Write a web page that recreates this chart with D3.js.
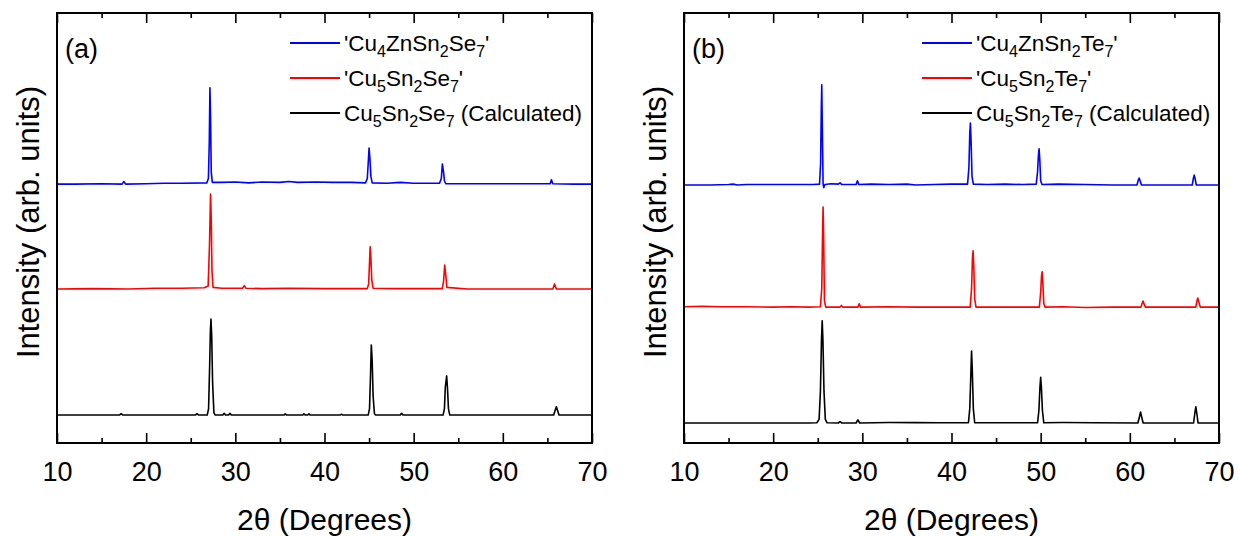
<!DOCTYPE html>
<html>
<head>
<meta charset="utf-8">
<script src="https://cdn.jsdelivr.net/npm/d3@7"></script>
<style>
  html, body { margin: 0; padding: 0; background: #ffffff; }
  svg { display: block; font-family: "Liberation Sans", Arial, sans-serif; }
</style>
</head>
<body>
<svg id="chart" width="1239" height="537"></svg>
<script>
// ---------- data ----------
const xMajorTicks = [10, 20, 30, 40, 50, 60, 70];
const xMinorTicks = [15, 25, 35, 45, 55, 65];
const xAxisTitle = "2θ (Degrees)";
const yAxisTitle = "Intensity (arb. units)";
const panelLabels = ["(a)", "(b)"];

// legend labels: [text, isSubscript]
const legendA = [
  [["'Cu", 0], ["4", 1], ["ZnSn", 0], ["2", 1], ["Se", 0], ["7", 1], ["'", 0]],
  [["'Cu", 0], ["5", 1], ["Sn", 0], ["2", 1], ["Se", 0], ["7", 1], ["'", 0]],
  [["Cu", 0], ["5", 1], ["Sn", 0], ["2", 1], ["Se", 0], ["7", 1], [" (Calculated)", 0]]
];
const legendB = [
  [["'Cu", 0], ["4", 1], ["ZnSn", 0], ["2", 1], ["Te", 0], ["7", 1], ["'", 0]],
  [["'Cu", 0], ["5", 1], ["Sn", 0], ["2", 1], ["Te", 0], ["7", 1], ["'", 0]],
  [["Cu", 0], ["5", 1], ["Sn", 0], ["2", 1], ["Te", 0], ["7", 1], [" (Calculated)", 0]]
];
const seriesColors = ["#0000ff", "#ff0000", "#000000"];

// panel (a): [2theta, intensity (arb. units, stacked)]
const aCu4ZnSn2Se7 = [[10,60.2],[12,60.2],[15,60.3],[17.3,60.2],[17.5,60.8],[17.7,60.2],[20,60.3],[22,60.4],[24,60.4],[26.8,60.5],[26.98,61.5],[27.08,70],[27.15,82.6],[27.22,76],[27.3,63],[27.42,60.6],[28.5,60.6],[30,60.7],[31.5,60.5],[33,60.7],[35,60.6],[36,60.8],[37,60.6],[39,60.7],[41,60.6],[43,60.6],[44.6,60.5],[44.8,61.5],[44.9,65],[45.0,68.6],[45.1,66],[45.2,62],[45.35,60.5],[47,60.4],[48.5,60.6],[50,60.4],[52.9,60.4],[53.1,61.5],[53.22,64.9],[53.35,63],[53.45,61],[53.6,60.3],[56,60.3],[60,60.3],[63,60.3],[65.3,60.3],[65.45,61.2],[65.6,60.3],[68,60.2],[70,60.2]];
const aCu5Sn2Se7 = [[10,35.8],[14,35.9],[18,35.8],[21,36.0],[24,36.0],[26.5,36.1],[26.95,36.5],[27.1,46],[27.22,57.9],[27.3,52],[27.38,40],[27.5,36.2],[28.5,36.0],[30.8,36.0],[31.0,36.6],[31.2,36.0],[33,35.9],[36,36.0],[40,35.9],[44.8,35.9],[44.95,37],[45.05,42],[45.12,45.6],[45.2,43],[45.3,38],[45.45,36],[48,35.9],[50,35.9],[53.2,35.9],[53.35,37.5],[53.48,41.4],[53.6,39],[53.72,36.2],[56,35.8],[60,35.8],[65.6,35.8],[65.8,37.0],[66.0,35.8],[70,35.8]];
const aCalculated = [[10,6.5],[17.0,6.5],[17.2,6.8],[17.4,6.5],[25.5,6.5],[25.7,6.8],[25.9,6.5],[26.85,6.5],[27.0,8],[27.12,18],[27.2,26],[27.27,28.8],[27.35,25],[27.45,14],[27.6,7],[27.75,6.5],[28.6,6.5],[28.75,6.9],[28.9,6.5],[29.25,6.5],[29.4,6.9],[29.55,6.5],[35.45,6.5],[35.6,6.8],[35.75,6.5],[37.55,6.5],[37.7,6.8],[37.85,6.5],[38.1,6.5],[38.25,6.8],[38.4,6.5],[41.75,6.5],[41.9,6.7],[42.05,6.5],[44.9,6.5],[45.05,8],[45.15,15],[45.25,22.8],[45.35,19],[45.45,11],[45.6,6.8],[45.75,6.5],[48.5,6.5],[48.65,6.9],[48.8,6.5],[53.3,6.5],[53.45,8],[53.55,13],[53.7,15.6],[53.8,12.5],[53.9,8],[54.05,6.5],[65.7,6.5],[65.85,7.5],[66.0,8.4],[66.15,7.5],[66.3,6.5],[70,6.5]];

// panel (b)
const bCu4ZnSn2Te7 = [[10,60.0],[13,60.0],[15,60.1],[15.5,60.2],[16,60.0],[17,60.1],[22,60.1],[24.5,60.1],[25.2,60.2],[25.32,65],[25.4,78],[25.45,83.3],[25.52,72],[25.6,60.2],[25.68,59.4],[25.8,60.1],[26.5,60.3],[27.3,60.2],[27.5,60.5],[27.7,60.1],[29.3,60.1],[29.45,61.0],[29.6,60.1],[31,60.2],[33,60.1],[35,60.2],[36,60.0],[38,60.1],[40,60.2],[41.8,60.2],[41.95,64],[42.05,72],[42.12,74.4],[42.2,70],[42.3,62],[42.45,60.2],[44,60.1],[46,60.2],[48,60.1],[49.5,60.2],[49.65,63],[49.75,67],[49.82,68.4],[49.9,66],[50.0,61],[50.15,60.1],[52,60.2],[55,60.1],[58,60.0],[60.8,60.0],[60.95,61.2],[61.05,61.6],[61.15,61.0],[61.3,60.0],[64,60.0],[67.0,60.0],[67.12,61.5],[67.22,62.3],[67.32,61.5],[67.45,60.0],[70,60.0]];
const bCu5Sn2Te7 = [[10,31.7],[12,31.8],[14,31.7],[17,31.7],[20,31.6],[22,31.7],[24,31.6],[25.3,31.7],[25.45,36],[25.55,50],[25.6,54.9],[25.66,48],[25.75,33],[25.9,31.6],[27.5,31.6],[27.65,32.0],[27.8,31.6],[29.5,31.6],[29.65,32.4],[29.8,31.6],[33,31.7],[36,31.6],[39,31.6],[42.1,31.6],[42.25,36],[42.35,43],[42.42,44.7],[42.5,41],[42.6,33.5],[42.75,31.6],[45,31.6],[48,31.6],[49.85,31.6],[50.0,35],[50.1,39],[50.17,39.8],[50.25,37],[50.35,32.5],[50.5,31.6],[52.5,31.7],[55,31.5],[58,31.6],[61.25,31.6],[61.4,32.6],[61.48,33.0],[61.58,32.4],[61.75,31.6],[64,31.6],[67.4,31.6],[67.55,33.2],[67.62,33.7],[67.72,33.0],[67.9,31.6],[70,31.6]];
const bCalculated = [[10,4.65],[24.0,4.65],[24.9,4.7],[25.15,5.5],[25.3,12],[25.42,24],[25.5,28.4],[25.58,24],[25.7,12],[25.85,5.5],[26.05,4.7],[27.3,4.65],[27.5,4.95],[27.7,4.65],[29.3,4.65],[29.5,5.4],[29.7,4.65],[33,4.75],[36,4.75],[38.5,4.7],[41.9,4.7],[42.05,8],[42.17,16],[42.25,21.4],[42.33,17],[42.45,8],[42.6,4.7],[46,4.7],[49.65,4.7],[49.8,7.5],[49.92,13],[50.0,15.3],[50.08,13],[50.2,7.5],[50.35,4.7],[52.5,4.75],[56,4.7],[60.9,4.65],[61.05,5.8],[61.2,7.2],[61.35,5.8],[61.5,4.65],[64,4.65],[67.15,4.65],[67.28,6.8],[67.4,8.4],[67.52,6.8],[67.65,4.65],[70,4.65]];

// ---------- drawing ----------
const svg = d3.select("#chart");
const plotTop = 13, plotBottom = 443;

const panels = [
  { left: 57, right: 592, label: panelLabels[0], legend: legendA,
    series: [aCu4ZnSn2Se7, aCu5Sn2Se7, aCalculated], legendX: 290, ylabX: 28 },
  { left: 684, right: 1219, label: panelLabels[1], legend: legendB,
    series: [bCu4ZnSn2Te7, bCu5Sn2Te7, bCalculated], legendX: 922, ylabX: 655 }
];

panels.forEach(p => {
  const g = svg.append("g");
  const x = d3.scaleLinear().domain([10, 70]).range([p.left, p.right]);
  const y = d3.scaleLinear().domain([0, 100]).range([plotBottom, plotTop]);

  const line = d3.line().x(d => x(d[0])).y(d => y(d[1]));
  p.series.forEach((s, i) => {
    g.append("path").datum(s)
      .attr("d", line)
      .attr("fill", "none")
      .attr("stroke", seriesColors[i])
      .attr("stroke-width", 1.6)
      .attr("stroke-linejoin", "round");
  });

  const styleTicks = sel => {
    sel.select(".domain").remove();
    sel.selectAll(".tick line").attr("stroke", "#000").attr("stroke-width", 1.6);
  };

  const axB = g.append("g").attr("transform", `translate(0,${plotBottom})`)
    .call(d3.axisBottom(x).tickValues(xMajorTicks).tickSize(-10).tickFormat(d3.format("d")).tickPadding(19));
  styleTicks(axB);
  axB.selectAll(".tick text").attr("font-size", 27).attr("fill", "#000")
    .attr("font-family", "Liberation Sans, Arial, sans-serif");
  styleTicks(g.append("g").attr("transform", `translate(0,${plotBottom})`)
    .call(d3.axisBottom(x).tickValues(xMinorTicks).tickSize(-5).tickFormat("")));
  styleTicks(g.append("g").attr("transform", `translate(0,${plotTop})`)
    .call(d3.axisTop(x).tickValues(xMajorTicks).tickSize(-10).tickFormat("")));
  styleTicks(g.append("g").attr("transform", `translate(0,${plotTop})`)
    .call(d3.axisTop(x).tickValues(xMinorTicks).tickSize(-5).tickFormat("")));

  g.append("rect")
    .attr("x", p.left).attr("y", plotTop)
    .attr("width", p.right - p.left).attr("height", plotBottom - plotTop)
    .attr("fill", "none").attr("stroke", "#000").attr("stroke-width", 2);

  g.append("text")
    .attr("x", (p.left + p.right) / 2).attr("y", 530)
    .attr("text-anchor", "middle").attr("font-size", 30).attr("fill", "#000")
    .text(xAxisTitle);
  g.append("text")
    .attr("transform", `translate(${p.ylabX},222) rotate(-90)`)
    .attr("text-anchor", "middle").attr("dominant-baseline", "central")
    .attr("font-size", 31).attr("fill", "#000")
    .text(yAxisTitle);

  g.append("text")
    .attr("x", p.left + 8).attr("y", 58)
    .attr("font-size", 27).attr("fill", "#000")
    .text(p.label);

  const rowsY = [43, 78, 113];
  p.legend.forEach((parts, i) => {
    const ry = rowsY[i];
    g.append("line")
      .attr("x1", p.legendX).attr("x2", p.legendX + 50)
      .attr("y1", ry).attr("y2", ry)
      .attr("stroke", seriesColors[i]).attr("stroke-width", 2);
    const t = g.append("text")
      .attr("x", p.legendX + 54).attr("y", ry + 8)
      .attr("font-size", 22.5).attr("fill", "#000");
    let shifted = false;
    parts.forEach(([txt, sub]) => {
      const ts = t.append("tspan").text(txt);
      if (sub && !shifted) { ts.attr("font-size", 16).attr("dy", 6); shifted = true; }
      else if (!sub && shifted) { ts.attr("dy", -6); shifted = false; }
      else if (sub) { ts.attr("font-size", 16); }
    });
  });
});
</script>
</body>
</html>
